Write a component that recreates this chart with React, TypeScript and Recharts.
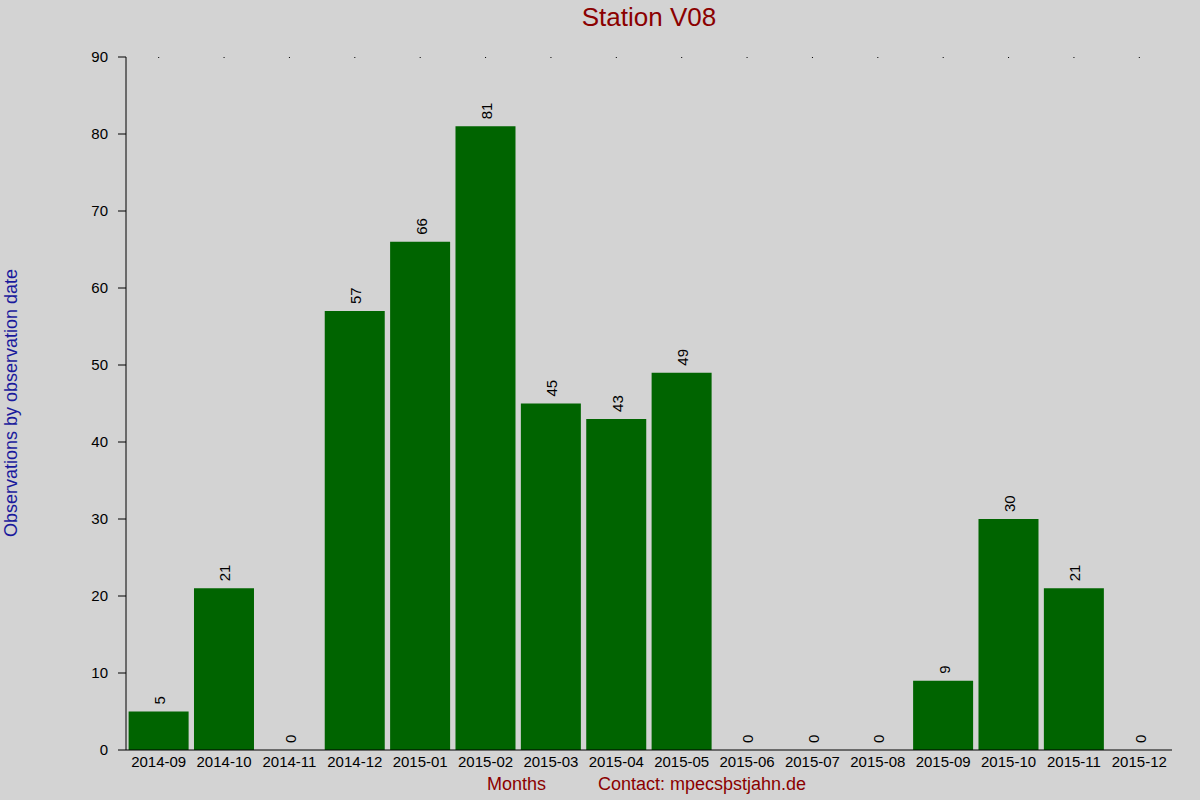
import React from "react";
import { BarChart, Bar, XAxis, YAxis, LabelList } from "recharts";

const months = [
  "2014-09", "2014-10", "2014-11", "2014-12", "2015-01", "2015-02", "2015-03", "2015-04",
  "2015-05", "2015-06", "2015-07", "2015-08", "2015-09", "2015-10", "2015-11", "2015-12",
];
const observations = [5, 21, 0, 57, 66, 81, 45, 43, 49, 0, 0, 0, 9, 30, 21, 0];
const yTicks = [0, 10, 20, 30, 40, 50, 60, 70, 80, 90];

const data = months.map((month, i) => ({ month, count: observations[i] }));

const FONT = '"Liberation Sans", Arial, sans-serif';

function ValueLabel(props: any) {
  const { x, y, width, height, value } = props;
  const cx = Number(x) + Number(width) / 2 + 1;
  // bars with zero value get a tiny min size, so use the bottom edge
  const top = Math.min(Number(y), Number(y) + Number(height));
  const ty = top - 7;
  return (
    <text
      x={cx}
      y={ty}
      transform={`rotate(-90, ${cx}, ${ty})`}
      textAnchor="start"
      dominantBaseline="central"
      fontSize={15}
      fontFamily={FONT}
      fill="#000"
    >
      {value}
    </text>
  );
}

function TopDot(props: any) {
  const { x, y } = props;
  return <rect x={Number(x) - 0.5} y={Number(y)} width={1} height={1} fill="#000" />;
}

export default function App() {
  return (
    <div
      style={{
        position: "absolute",
        top: 0,
        left: 0,
        width: 1200,
        height: 800,
        background: "#d3d3d3",
        fontFamily: FONT,
        overflow: "hidden",
      }}
    >
      <div
        style={{
          position: "absolute",
          top: 2,
          left: 0,
          width: 1298,
          textAlign: "center",
          fontSize: 26,
          color: "#8b0000",
        }}
      >
        Station V08
      </div>
      <div
        style={{
          position: "absolute",
          left: 11,
          top: 403,
          transform: "translate(-50%, -50%) rotate(-90deg)",
          whiteSpace: "nowrap",
          fontSize: 18,
          color: "#1a1a9c",
        }}
      >
        Observations by observation date
      </div>
      <div
        style={{
          position: "absolute",
          left: 487,
          top: 774,
          whiteSpace: "nowrap",
          fontSize: 18,
          color: "#8b0000",
        }}
      >
        Months
      </div>
      <div
        style={{
          position: "absolute",
          left: 598,
          top: 774,
          whiteSpace: "nowrap",
          fontSize: 18,
          color: "#8b0000",
        }}
      >
        Contact: mpecsþstjahn.de
      </div>
      <BarChart
        width={1200}
        height={800}
        data={data}
        margin={{ top: 56, right: 28, bottom: 20, left: 66 }}
        barCategoryGap="4%"
        style={{ position: "absolute", top: 0, left: 0 }}
      >
        <XAxis
          xAxisId="top"
          orientation="top"
          dataKey="month"
          height={1}
          axisLine={false}
          tickLine={false}
          tickSize={0}
          tickMargin={0}
          tick={TopDot}
          interval={0}
        />
        <XAxis
          dataKey="month"
          height={30}
          axisLine={{ stroke: "#000", strokeWidth: 1 }}
          tickLine={false}
          tickSize={4}
          tick={{ fontSize: 15, fill: "#000", fontFamily: FONT }}
          interval={0}
        />
        <YAxis
          domain={[0, 90]}
          ticks={yTicks}
          width={60}
          axisLine={{ stroke: "#000", strokeWidth: 1 }}
          tickLine={{ stroke: "#000", strokeWidth: 1 }}
          tickSize={8}
          tickMargin={10}
          tick={{ fontSize: 15, fill: "#000", fontFamily: FONT }}
        />
        <Bar dataKey="count" xAxisId={0} fill="#006400" minPointSize={0.01} isAnimationActive={false}>
          <LabelList dataKey="count" content={ValueLabel} />
        </Bar>
      </BarChart>
    </div>
  );
}
